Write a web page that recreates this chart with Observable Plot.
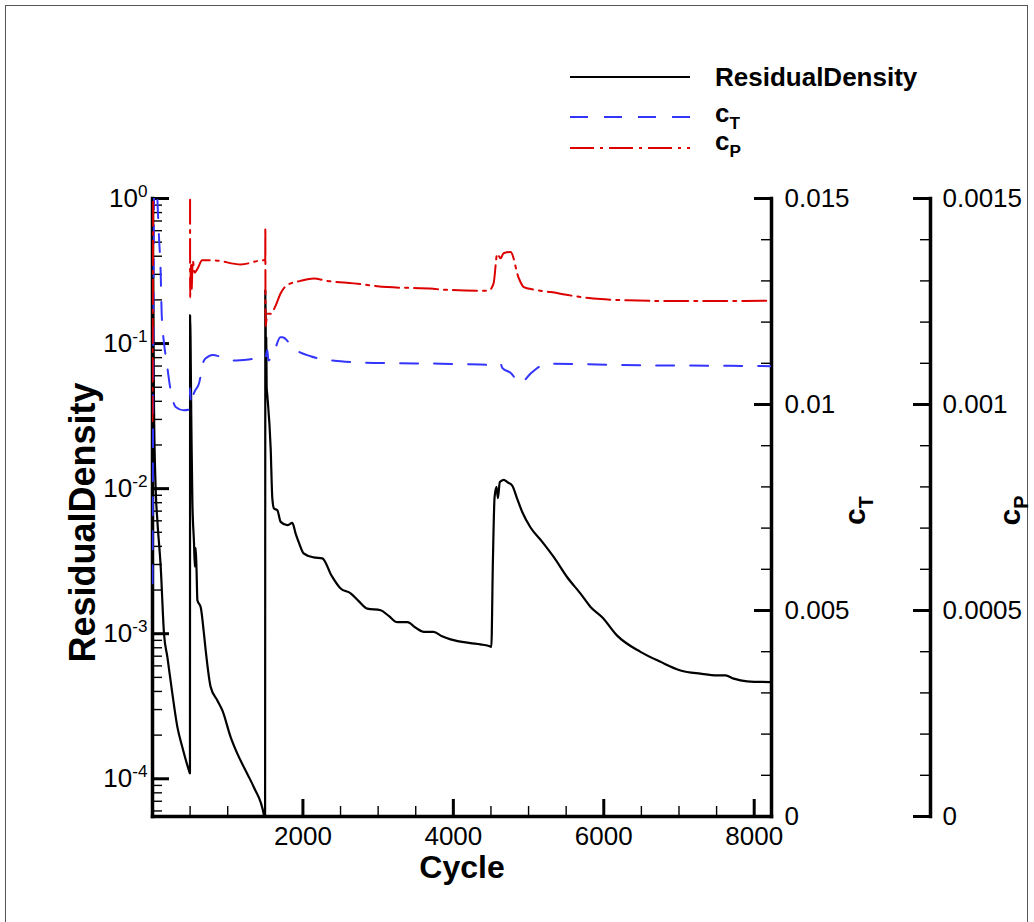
<!DOCTYPE html>
<html>
<head>
<meta charset="utf-8">
<script src="https://cdn.jsdelivr.net/npm/d3@7"></script>
<script src="https://cdn.jsdelivr.net/npm/@observablehq/plot@0.6"></script>
<style>
  body { margin: 0; background: #fff; }
  #wrap { position: relative; width: 1034px; height: 922px; overflow: hidden; background: #fff;
          font-family: "Liberation Sans", Arial, Helvetica, sans-serif; }
  #wrap > svg { position: absolute; left: 0; top: 0; }
  #border { position: absolute; left: 5px; top: 5px; width: 1021px; height: 1000px; border: 1px solid #555; }
</style>
</head>
<body>
<div id="wrap"><div id="border"></div></div>
<script>
// ---------------- data ----------------
const residualCycle = [0, 10, 20, 43, 65, 109, 153, 198, 264, 331, 397, 485, 498,
  500, 517, 530, 552, 563, 574, 585, 597, 641, 684, 707, 773, 862, 929, 1039, 1128, 1261, 1349, 1482, 1497,
  1500, 1504, 1508, 1512, 1518, 1525, 1571, 1593, 1615, 1660, 1704, 1793, 1859, 1903, 1950, 2010, 2142, 2258,
  2380, 2501, 2634, 2745, 2856, 3033, 3145, 3255, 3388, 3500, 3604, 3737, 3850, 3963, 4226, 4359, 4492, 4505,
  4525, 4548, 4574, 4592, 4618, 4671, 4717, 4783, 4849, 4916, 5026, 5182, 5336, 5514, 5691, 5824, 5979,
  6178, 6488, 6754, 7020, 7285, 7507, 7618, 7728, 7906, 8216];
const residualDensity = [1.0, 0.2, 0.0365, 0.0097, 0.006, 0.0029, 0.001, 0.00069, 0.000386, 0.000227, 0.000165, 0.000114, 0.000109,
  0.157, 0.0266, 0.0083, 0.0042, 0.0029, 0.0039, 0.0028, 0.0017, 0.00152, 0.0010, 0.00077, 0.00043, 0.000347, 0.000296, 0.000194, 0.000149, 0.000108, 0.000087, 0.000056, 0.000050,
  0.233, 0.157, 0.07, 0.11, 0.05, 0.045, 0.019, 0.0086, 0.0073, 0.0071, 0.0059, 0.0056, 0.0058, 0.0049, 0.0042, 0.00358, 0.00336, 0.00331,
  0.00252, 0.00205, 0.0019, 0.00167, 0.00149, 0.00145, 0.00132, 0.0012, 0.0012, 0.0011, 0.00103, 0.00103, 0.00096, 0.000914, 0.000861, 0.000844, 0.000817, 0.00081,
  0.003, 0.0087, 0.0103, 0.0086, 0.0111, 0.0115, 0.0111, 0.0105, 0.0085, 0.0069, 0.0054, 0.0043, 0.00337, 0.00245, 0.00189, 0.00153, 0.0013,
  0.00097, 0.00075, 0.00064, 0.000558, 0.00053, 0.000516, 0.000516, 0.00049, 0.00047, 0.000464];

const cTCycle = [0, 30, 60, 86, 109, 122, 153, 185, 242, 308, 415, 494, 500, 510, 550, 618, 684, 730, 796, 1079, 1478, 1500,
  1527, 1540, 1620, 1700, 1726, 1883, 2102, 2501, 2944, 3830, 4362, 4605, 4630, 4650, 4760, 4893, 5026, 5248, 5730, 6488, 7684, 8220];
const cT = [0.00566, 0.0165, 0.0152, 0.01407, 0.01319, 0.01221, 0.01149, 0.01107, 0.01034, 0.00994, 0.00986, 0.00988, 0.0104, 0.0100, 0.01027, 0.01051, 0.01107, 0.01115, 0.0112, 0.01107, 0.01112, 0.01112,
  0.01132, 0.01107, 0.0113, 0.01163, 0.01163, 0.01135, 0.01117, 0.01105, 0.01101, 0.01099, 0.01097, 0.01095, 0.01098, 0.01089, 0.01077, 0.01052, 0.01075, 0.01099, 0.01098, 0.01095, 0.01094, 0.01093];

const cPCycle = [0, 20, 499, 500, 510, 520, 535, 560, 600, 660, 810, 1173, 1478, 1499, 1500, 1503, 1527, 1571, 1637, 1704, 1793,
  1970, 2142, 2324, 2674, 3122, 3737, 3830, 4468, 4535, 4584, 4628, 4667, 4761, 4871, 4937, 5066, 5292, 5691, 5957, 6311, 6927, 7592, 8124, 8220];
const cP = [0.00096, 0.0018, 0.0018, 0.00126, 0.00134, 0.00128, 0.00135, 0.00132, 0.00133, 0.00135, 0.00135, 0.00134, 0.00135, 0.00135, 0.00143, 0.00119, 0.00122, 0.00122, 0.00124, 0.00127, 0.00129,
  0.0013, 0.001306, 0.0013, 0.001294, 0.001285, 0.001281, 0.001279, 0.001276, 0.001294, 0.001366, 0.001355, 0.001367, 0.00137, 0.001306, 0.001285, 0.001279, 0.001273, 0.001261, 0.001256, 0.001253, 0.001251, 0.001251, 0.001252, 0.001252];

const xTicks = [2000, 4000, 6000, 8000];
const xMinorTicks = [500, 1000, 1500, 2500, 3000, 3500, 4500, 5000, 5500, 6500, 7000, 7500];
const residualTicks = [1, 0.1, 0.01, 0.001, 0.0001];
const residualTickLabels = ["10^0", "10^-1", "10^-2", "10^-3", "10^-4"];
const cTTicks = [0, 0.005, 0.01, 0.015];
const cTTickLabels = ["0", "0.005", "0.01", "0.015"];
const cPTicks = [0, 0.0005, 0.001, 0.0015];
const cPTickLabels = ["0", "0.0005", "0.001", "0.0015"];
const seriesNames = ["ResidualDensity", "c_T", "c_P"];

// ---------------- layout ----------------
const W = 1034, H = 922;
const mL = 152, mR = W - 771, mT = 198, mB = H - 816;
const plotW = W - mL - mR, plotH = H - mT - mB;
const xDomain = [0, 8230];
const logMin = Math.pow(10, -4.26);
const font = "Liberation Sans, Arial, Helvetica, sans-serif";
const blue = "#3434ff", red = "#dd0000";
const cPOffset = 159;

const resData = residualCycle.map((c, i) => ({cycle: c, value: residualDensity[i]}));
const cTData = cTCycle.map((c, i) => ({cycle: c, value: cT[i]}));
const cPData = cPCycle.map((c, i) => ({cycle: c, value: cP[i]}));

const logMinor = [];
for (let k = -5; k <= -1; k++) for (let m = 2; m <= 9; m++) {
  const v = m * Math.pow(10, k);
  if (v >= logMin && v < 1) logMinor.push(v);
}
const cTMinor = d3.range(1, 15).filter(i => i % 5 !== 0).map(i => i * 0.001);
const cPMinor = d3.range(1, 15).filter(i => i % 5 !== 0).map(i => i * 0.0001);

function scripts(svg) {
  d3.select(svg).selectAll("text").each(function () {
    const t = this.textContent;
    const m = t.match(/^(.*?)([\^_])(.+)$/);
    if (!m) return;
    const el = d3.select(this);
    el.text(null);
    el.append("tspan").text(m[1]);
    el.append("tspan")
      .attr("dy", m[2] === "^" ? "-0.6em" : "0.38em")
      .style("font-size", "66%")
      .text(m[3]);
  });
  return svg;
}

const base = {
  width: W, height: H,
  marginLeft: mL, marginRight: mR, marginTop: mT, marginBottom: mB,
  style: {background: "transparent", fontFamily: font, color: "black", overflow: "visible"}
};

// Residual (log, left axis) + x axis
const p1 = Plot.plot({
  ...base,
  x: {domain: xDomain},
  y: {type: "log", domain: [logMin, 1]},
  marks: [
    Plot.line(resData, {x: "cycle", y: "value", stroke: "black", strokeWidth: 2.2, curve: "monotone-x", clip: true}),
    Plot.tickY(logMinor, {y: d => d, insetRight: plotW - 10, stroke: "black", strokeWidth: 1.4}),
    Plot.tickY(residualTicks, {y: d => d, insetRight: plotW - 17, stroke: "black", strokeWidth: 3}),
    Plot.tickX(xMinorTicks, {x: d => d, insetTop: plotH - 10, stroke: "black", strokeWidth: 1.4}),
    Plot.tickX(xTicks, {x: d => d, insetTop: plotH - 17, stroke: "black", strokeWidth: 3}),
    Plot.axisY(residualTicks, {anchor: "left", tickSize: 0, tickPadding: 5, fontSize: 26, label: null,
      tickFormat: d => residualTickLabels[residualTicks.indexOf(d)]}),
    Plot.axisX(xTicks, {anchor: "bottom", tickSize: 0, tickPadding: 10, fontSize: 26, label: null,
      tickFormat: d => String(d)}),
    Plot.frame({anchor: "left", strokeWidth: 3.5, strokeLinecap: "square"}),
    Plot.frame({anchor: "bottom", strokeWidth: 3.5, strokeLinecap: "square"}),
    Plot.frame({anchor: "right", strokeWidth: 3.5, strokeLinecap: "square"}),
    Plot.text(["Cycle"], {frameAnchor: "bottom", lineAnchor: "middle", textAnchor: "middle", dy: 51, fontSize: 32, fontWeight: "bold"}),
    Plot.text([seriesNames[0]], {frameAnchor: "left", lineAnchor: "middle", textAnchor: "middle", dx: -69, dy: 15, rotate: -90, fontSize: 36, fontWeight: "bold"})
  ]
});

// cT (linear, right axis)
const p2 = Plot.plot({
  ...base,
  x: {domain: xDomain, axis: null},
  y: {domain: [0, 0.015]},
  marks: [
    Plot.line(cTData, {x: "cycle", y: "value", stroke: blue, strokeWidth: 2, strokeDasharray: "18,16", curve: "monotone-x", clip: true}),
    Plot.tickY(cTMinor, {y: d => d, insetLeft: plotW - 10, stroke: "black", strokeWidth: 1.4}),
    Plot.tickY(cTTicks, {y: d => d, insetLeft: plotW - 17, stroke: "black", strokeWidth: 3}),
    Plot.axisY(cTTicks, {anchor: "right", tickSize: 0, tickPadding: 13, fontSize: 26, label: null,
      tickFormat: d => cTTickLabels[cTTicks.indexOf(d)]}),
    Plot.text([seriesNames[1]], {frameAnchor: "right", lineAnchor: "middle", textAnchor: "middle", dx: 84, dy: 3, rotate: -90, fontSize: 30, fontWeight: "bold"})
  ]
});

// cP (linear, offset right axis)
const p3 = Plot.plot({
  ...base,
  x: {domain: xDomain, axis: null},
  y: {domain: [0, 0.0015]},
  marks: [
    Plot.line(cPData, {x: "cycle", y: "value", stroke: red, strokeWidth: 2, strokeDasharray: "24,6,3,6", curve: "monotone-x", clip: true}),
    Plot.frame({anchor: "right", dx: cPOffset, strokeWidth: 3.5}),
    Plot.tickY(cPMinor, {y: d => d, insetLeft: plotW - 10, dx: cPOffset, stroke: "black", strokeWidth: 1.4}),
    Plot.tickY(cPTicks, {y: d => d, insetLeft: plotW - 17, dx: cPOffset, stroke: "black", strokeWidth: 3}),
    Plot.axisY(cPTicks, {anchor: "right", dx: cPOffset, tickSize: 0, tickPadding: 12, fontSize: 26, label: null,
      tickFormat: d => cPTickLabels[cPTicks.indexOf(d)]}),
    Plot.text([seriesNames[2]], {frameAnchor: "right", lineAnchor: "middle", textAnchor: "middle", dx: 239, dy: 3, rotate: -90, fontSize: 30, fontWeight: "bold"})
  ]
});

const wrap = document.getElementById("wrap");
[p1, p2, p3].forEach(s => { scripts(s); wrap.appendChild(s); });

// Legend
const leg = d3.select(wrap).append("svg")
  .attr("width", W).attr("height", 180)
  .style("font-family", font);
const legendItems = [
  {name: seriesNames[0], stroke: "black", dash: null, w: 2.2, y: 77, base: 86},
  {name: seriesNames[1], stroke: blue, dash: "18,16", w: 2, y: 117, base: 122},
  {name: seriesNames[2], stroke: red, dash: "24,6,3,6", w: 2, y: 148, base: 150}
];
legendItems.forEach(it => {
  leg.append("line").attr("x1", 570).attr("x2", 690).attr("y1", it.y).attr("y2", it.y)
    .attr("stroke", it.stroke).attr("stroke-width", it.w).attr("stroke-dasharray", it.dash);
  leg.append("text").attr("x", 715).attr("y", it.base)
    .attr("font-size", 26).attr("font-weight", "bold").text(it.name);
});
scripts(leg.node());
</script>
</body>
</html>
